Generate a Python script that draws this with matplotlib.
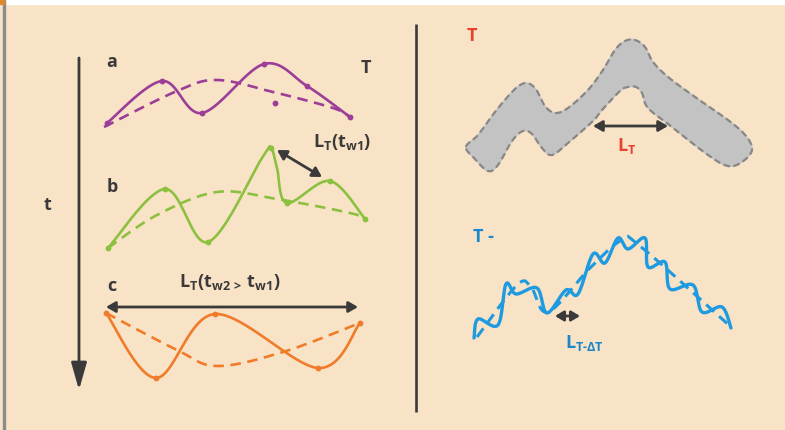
import numpy as np
import matplotlib.pyplot as plt
from matplotlib.patches import Rectangle

plt.rcParams['font.family'] = ['Open Sans', 'DejaVu Sans']
plt.rcParams['mathtext.fontset'] = 'custom'
plt.rcParams['mathtext.rm'] = 'Open Sans:bold'
plt.rcParams['mathtext.it'] = 'Open Sans:bold'
plt.rcParams['mathtext.bf'] = 'Open Sans:bold'
plt.rcParams['mathtext.default'] = 'rm'

BG = "#f9e3c6"
DARK = "#3a3a3a"
PURPLE = "#9c3d97"
GREEN = "#8cc03f"
ORANGE = "#f07b2a"
BLUE = "#1d9ae0"
BLUE_TXT = "#1a86cc"
RED = "#e8412c"

# --- left panel: three time windows (x, y in sketch units, y grows downward) ---
a_solid = [(107, 123), (162, 81), (202, 113), (264, 64), (307, 86), (350, 117)]
a_dash = [(104, 127), (177, 91), (217, 80), (273, 92), (333, 108), (350, 117)]
a_dots = [(107, 123), (162, 81), (202, 113), (264, 64), (275, 103), (307, 86), (350, 117)]

b_solid = [(108, 248), (165, 189), (208, 242), (262, 158), (271, 148), (277, 168),
           (287, 203), (330, 181), (365, 219)]
b_dash = [(108, 248), (157, 215), (217, 192), (277, 199), (350, 213), (365, 219)]
b_dots = [(108, 248), (165, 189), (208, 242), (271, 148), (287, 203), (330, 181), (365, 219)]

c_solid = [(106, 313), (156, 378), (215, 314), (318, 368), (360, 323)]
c_dash = [(106, 313), (177, 350), (217, 366), (283, 352), (360, 323)]
c_dots = [(106, 313), (156, 378), (215, 314), (318, 368), (360, 323)]

# --- right panel: grey band (outline, clockwise) ---
band_outline = [(466, 147), (478, 135), (495, 112), (512, 92), (522, 84), (530, 84),
                (537, 91), (545, 106), (555, 113), (568, 108), (588, 90), (603, 70),
                (615, 50), (625, 41), (635, 40), (645, 47), (653, 62), (668, 77),
                (695, 97), (728, 120), (746, 136), (752, 150), (742, 162), (728, 166),
                (708, 155), (672, 127), (648, 108), (642, 93), (636, 87), (628, 87),
                (620, 91), (602, 110), (593, 121), (568, 143), (552, 155), (542, 148),
                (532, 134), (523, 131), (512, 141), (498, 165), (488, 171), (475, 159)]

# --- right panel: wavy blue trace and its trend ---
wave_solid = [(474, 338), (478, 319), (498, 325), (506, 284), (516, 294), (537, 288),
              (547, 313), (566, 290), (578, 294), (593, 254), (605, 263), (618, 238),
              (628, 249), (645, 238), (648, 267), (665, 262), (670, 289), (693, 285),
              (702, 312), (722, 307), (731, 328)]
wave_trend = [(477, 337), (517, 285), (531, 287), (548, 312), (590, 268), (622, 240),
              (640, 246), (731, 327)]


def smooth(pts, n=24, closed=False):
    # Catmull-Rom spline through the given points
    p = np.asarray(pts, float)
    if closed:
        p = np.vstack([p[-1], p, p[0], p[1]])
    else:
        p = np.vstack([p[0], p, p[-1]])
    t = np.linspace(0, 1, n, endpoint=False)[:, None]
    out = []
    for i in range(1, len(p) - 2):
        p0, p1, p2, p3 = p[i - 1], p[i], p[i + 1], p[i + 2]
        out.append(0.5 * (2 * p1 + (p2 - p0) * t
                          + (2 * p0 - 5 * p1 + 4 * p2 - p3) * t ** 2
                          + (3 * p1 - p0 - 3 * p2 + p3) * t ** 3))
    out.append(p[1:2] if closed else p[-2:-1])
    return np.vstack(out)


def double_arrow(ax, p, q, ms=10, hl=0.55, hw=0.32):
    ax.annotate("", xy=q, xytext=p,
                arrowprops=dict(arrowstyle=f"<|-|>,head_length={hl},head_width={hw}",
                                color=DARK, lw=2, mutation_scale=ms,
                                shrinkA=0, shrinkB=0))


fig = plt.figure(figsize=(7.85, 4.30), dpi=100)
fig.patch.set_facecolor(BG)
ax = fig.add_axes([0, 0, 1, 1])
ax.set_xlim(0, 785)
ax.set_ylim(430, 0)
ax.axis("off")

# frame trim
ax.add_patch(Rectangle((0, 0), 785, 4, color="white", zorder=1))
ax.add_patch(Rectangle((3, 0), 1.6, 430, color="#8c8c8c", zorder=2))
ax.add_patch(Rectangle((0, 0), 4, 4, color="#e08a2a", zorder=3))

# time axis
ax.annotate("", xy=(79, 390), xytext=(79, 58),
            arrowprops=dict(arrowstyle="-|>,head_length=1.65,head_width=0.47",
                            color=DARK, lw=2, mutation_scale=10, shrinkA=0, shrinkB=0))
ax.text(48, 205, "t", fontsize=13, fontweight="bold", color=DARK, ha="center", va="center")

# divider
ax.plot([416, 416], [24, 412], color=DARK, lw=1.9, solid_capstyle="butt")

for solid, dash, dots, col in [(a_solid, a_dash, a_dots, PURPLE),
                               (b_solid, b_dash, b_dots, GREEN),
                               (c_solid, c_dash, c_dots, ORANGE)]:
    s = smooth(solid)
    d = smooth(dash)
    ax.plot(s[:, 0], s[:, 1], color=col, lw=1.9, solid_capstyle="round")
    ax.plot(d[:, 0], d[:, 1], color=col, lw=1.9, ls=(0, (4, 2.5)))
    dx, dy = zip(*dots)
    ax.plot(dx, dy, "o", color=col, ms=4.2, mec="none")

ax.text(112, 62, "a", fontsize=13, fontweight="bold", color=DARK, ha="center", va="center")
ax.text(112, 187, "b", fontsize=13, fontweight="bold", color=DARK, ha="center", va="center")
ax.text(112, 286, "c", fontsize=13, fontweight="bold", color=DARK, ha="center", va="center")
ax.text(366, 68, "T", fontsize=13, fontweight="bold", color=DARK, ha="center", va="center")

double_arrow(ax, (277, 150), (322, 177))
ax.text(313, 142, r"$L_T(t_{w1})$", fontsize=13, color=DARK, ha="left", va="center")

double_arrow(ax, (106, 307), (358, 307))
ax.text(230, 282, r"$L_T(t_{w2\,>}\,t_{w1})$", fontsize=13, color=DARK, ha="center", va="center")

# grey band
band = smooth(band_outline, n=12, closed=True)
ax.fill(band[:, 0], band[:, 1], color="#c3c3c3", zorder=2)
ax.plot(band[:, 0], band[:, 1], color="#878787", lw=1.6, ls=(0, (3, 1.6)), zorder=3)
ax.text(472, 36, "T", fontsize=13, fontweight="bold", color=RED, ha="center", va="center")
double_arrow(ax, (593, 126), (668, 126))
ax.text(627, 146, r"$L_T$", fontsize=13, color=RED, ha="center", va="center")

# blue wavy trace
w = smooth(wave_solid, n=16)
wt = smooth(wave_trend)
ax.plot(wt[:, 0], wt[:, 1], color=BLUE, lw=2.2, ls=(0, (3.5, 2.2)))
ax.plot(w[:, 0], w[:, 1], color=BLUE, lw=2.4, solid_capstyle="round")
ax.text(473, 237, "T -", fontsize=13, fontweight="bold", color=BLUE_TXT, ha="left", va="center")
double_arrow(ax, (555, 316), (580, 316), hl=0.5, hw=0.3)
ax.text(565, 343, r"$L_{T\text{-}\Delta T}$", fontsize=13, color=BLUE_TXT, ha="left", va="center")

fig.savefig("out.png", dpi=100, facecolor=BG)
